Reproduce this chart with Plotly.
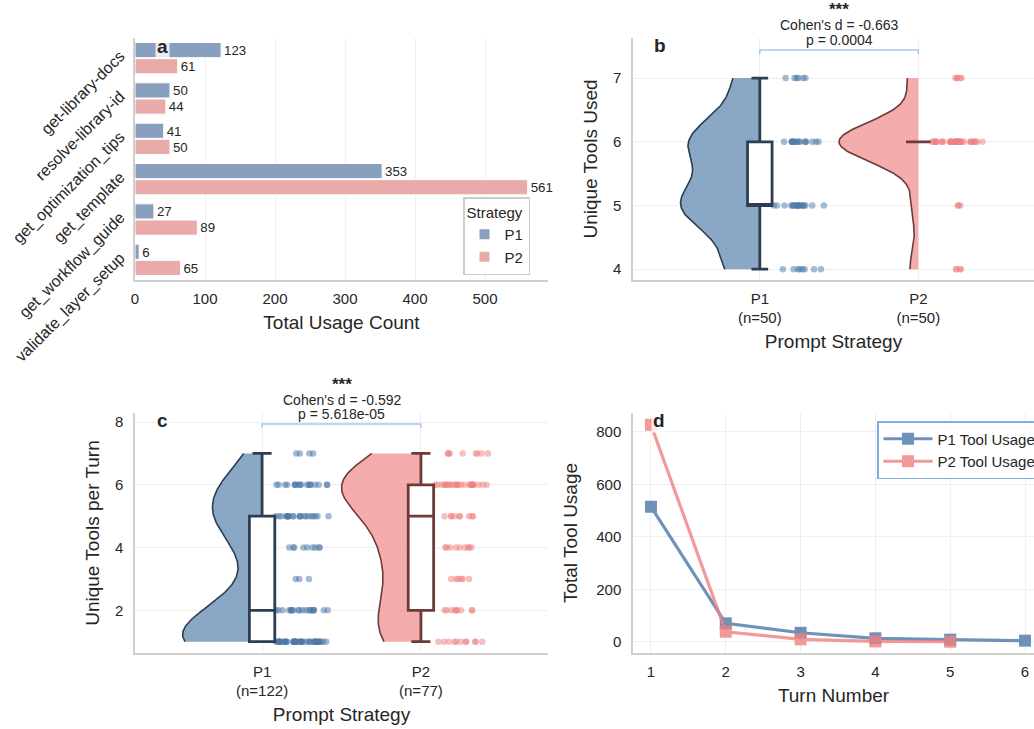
import numpy as np
import plotly.graph_objects as go

# ---------------- data ----------------
tools = ["get-library-docs", "resolve-library-id", "get_optimization_tips",
         "get_template", "get_workflow_guide", "validate_layer_setup"]
usage_p1 = [123, 50, 41, 353, 27, 6]
usage_p2 = [61, 44, 50, 561, 89, 65]

strategies = ["P1", "P2"]

# panel b: unique tools used per session (level -> number of sessions)
b_levels = [4, 5, 6, 7]
b_counts_p1 = [8, 19, 17, 6]
b_counts_p2 = [4, 3, 38, 5]
b_stats = ["***", "Cohen's d = -0.663", "p = 0.0004"]

# panel c: unique tools per turn (level -> number of turns)
c_levels = [1, 2, 3, 4, 5, 6, 7]
c_counts_p1 = [46, 20, 3, 9, 22, 18, 4]
c_counts_p2 = [11, 9, 6, 9, 9, 25, 8]
c_stats = ["***", "Cohen's d = -0.592", "p = 5.618e-05"]

# panel d: total tool usage per turn
turns_p1 = [1, 2, 3, 4, 5, 6]
turn_usage_p1 = [515, 71, 35, 14, 9, 5]
turns_p2 = [1, 2, 3, 4, 5]
turn_usage_p2 = [827, 39, 10, 2, 1]

# ---------------- style ----------------
FONT = "Liberation Sans, Arial, sans-serif"
TXT = "#262626"
GRID = "#EFEFEF"
AXL = "#CFCFCF"
BASE = {"P1": "#4C78A8", "P2": "#F08080"}
BAR = {"P1": "#889FBD", "P2": "#E9AAAA"}
VFILL = {"P1": "rgba(76,120,168,0.65)", "P2": "rgba(240,128,128,0.65)"}
DARK = {"P1": "#2C3E50", "P2": "#6E3B3B"}
BRACKET = "#A9C8EE"

W, H = 1034, 729


def px_x(p):
    return p / W


def px_y(p):
    return 1 - p / H


fig = go.Figure()

# ---------------- panel a ----------------
for name, vals in (("P1", usage_p1), ("P2", usage_p2)):
    fig.add_trace(go.Bar(
        y=tools, x=vals, orientation="h", name=name,
        marker=dict(color=BAR[name], line=dict(color="white", width=1)),
        text=vals, textposition="outside", cliponaxis=False,
        textfont=dict(size=14, color=TXT, family=FONT),
        xaxis="x", yaxis="y", legend="legend",
    ))


def scott_bw(vals):
    return vals.std(ddof=1) * len(vals) ** (-0.2)


def kde_edge(vals, pos, half_width=0.5, n=200):
    bw = scott_bw(vals)
    grid = np.linspace(vals.min(), vals.max(), n)
    dens = np.exp(-0.5 * ((grid[:, None] - vals[None, :]) / bw) ** 2).sum(1)
    dens = dens / dens.max() * half_width
    return pos - dens, grid


def add_raincloud(levels, counts_by_group, xa, ya, box_w, cap_ratio):
    for i, name in enumerate(strategies):
        vals = np.repeat(levels, counts_by_group[i]).astype(float)
        # half violin body (plotly KDE, same bandwidth as the outline)
        fig.add_trace(go.Violin(
            y=vals, x0=i, side="negative", width=1.0, scalemode="width",
            spanmode="hard", bandwidth=scott_bw(vals), points=False,
            fillcolor=VFILL[name], line=dict(width=0, color="rgba(0,0,0,0)"),
            xaxis=xa, yaxis=ya, showlegend=False, hoverinfo="skip"))
        # outline on the curved side only
        xs, grid = kde_edge(vals, i)
        fig.add_trace(go.Scatter(
            x=xs, y=grid, mode="lines",
            line=dict(width=1.6, color=DARK[name]),
            xaxis=xa, yaxis=ya, showlegend=False, hoverinfo="skip"))
        # strip points (jitter by plotly)
        fig.add_trace(go.Box(
            y=vals, x0=i, width=0.4, boxpoints="all", jitter=0.85, pointpos=1.27,
            fillcolor="rgba(0,0,0,0)", line=dict(width=0, color="rgba(0,0,0,0)"),
            marker=dict(color=BASE[name], size=6.5, opacity=0.5),
            xaxis=xa, yaxis=ya, showlegend=False, hoverinfo="skip"))
        # quartile box (whiskers at 1.5 IQR; outliers hidden)
        fig.add_trace(go.Box(
            y=vals, x0=i, width=box_w, boxpoints="outliers", fillcolor="white",
            marker=dict(size=0, opacity=0),
            line=dict(color=DARK[name], width=2.8), whiskerwidth=cap_ratio,
            xaxis=xa, yaxis=ya, showlegend=False, hoverinfo="skip"))


add_raincloud(b_levels, [b_counts_p1, b_counts_p2], "x2", "y2", 0.155, 0.68)
add_raincloud(c_levels, [c_counts_p1, c_counts_p2], "x3", "y3", 0.16, 0.75)

# ---------------- panel d ----------------
for name, tx, ty in (("P1", turns_p1, turn_usage_p1), ("P2", turns_p2, turn_usage_p2)):
    fig.add_trace(go.Scatter(
        x=tx, y=ty, mode="lines+markers", name=f"{name} Tool Usage",
        line=dict(color=BASE[name], width=3.2),
        marker=dict(symbol="square", size=12, color=BASE[name]),
        opacity=0.8, xaxis="x4", yaxis="y4", legend="legend2", cliponaxis=False))

# ---------------- axes ----------------
tickfont = dict(size=15, color=TXT, family=FONT)
titlefont = dict(size=19, color=TXT, family=FONT)
common = dict(showline=True, linecolor=AXL, linewidth=1.5, gridcolor=GRID,
              gridwidth=1, zeroline=False, ticks="", title_font=titlefont,
              automargin=False)
xcommon = dict(common, ticklabelstandoff=4)
ycommon = dict(common, ticklabelstandoff=7)

dom_ax_left = [px_x(135), px_x(548)]
dom_ax_right = [px_x(633), 1.0]
dom_top = [px_y(280), px_y(38)]
dom_bot = [px_y(653), px_y(413)]

n_b = [sum(b_counts_p1), sum(b_counts_p2)]
n_c = [sum(c_counts_p1), sum(c_counts_p2)]

fig.update_layout(
    width=W, height=H, margin=dict(l=0, r=0, t=0, b=0, autoexpand=False),
    plot_bgcolor="white", paper_bgcolor="white",
    font=dict(family=FONT, color=TXT),
    barmode="group", bargap=0.2, bargroupgap=0.06,
    boxmode="overlay", violinmode="overlay",
    xaxis=dict(domain=dom_ax_left, anchor="y", range=[0, 590],
               tickvals=[0, 100, 200, 300, 400, 500], tickfont=tickfont,
               title=dict(text="Total Usage Count", standoff=10), **xcommon),
    yaxis=dict(domain=dom_top, anchor="x", type="category",
               range=[5.5, -0.5], tickangle=-45, showgrid=False,
               ticklabelshift=4,
               tickfont=dict(size=16, color=TXT, family=FONT),
               **dict(common, ticklabelstandoff=10)),
    xaxis2=dict(domain=dom_ax_right, anchor="y2", type="linear", range=[-0.8, 1.73],
                tickvals=[0, 1], tickfont=tickfont,
                ticktext=[f"{s}<br>(n={n})" for s, n in zip(strategies, n_b)],
                title=dict(text="Prompt Strategy", standoff=9), **xcommon),
    yaxis2=dict(domain=dom_top, anchor="x2", range=[3.83, 7.63],
                tickvals=b_levels, tickfont=tickfont,
                title=dict(text="Unique Tools Used", standoff=10), **ycommon),
    xaxis3=dict(domain=dom_ax_left, anchor="y3", type="linear", range=[-0.8, 1.8],
                tickvals=[0, 1], tickfont=tickfont,
                ticktext=[f"{s}<br>(n={n})" for s, n in zip(strategies, n_c)],
                title=dict(text="Prompt Strategy", standoff=9), **xcommon),
    yaxis3=dict(domain=dom_bot, anchor="x3", range=[0.64, 8.29],
                tickvals=[2, 4, 6, 8], tickfont=tickfont,
                title=dict(text="Unique Tools per Turn", standoff=10), **ycommon),
    xaxis4=dict(domain=dom_ax_right, anchor="y4", range=[0.76, 6.12],
                tickvals=[1, 2, 3, 4, 5, 6], tickfont=tickfont,
                title=dict(text="Turn Number", standoff=10), **xcommon),
    yaxis4=dict(domain=dom_bot, anchor="x4", range=[-42, 872],
                tickvals=[0, 200, 400, 600, 800], tickfont=tickfont,
                title=dict(text="Total Tool Usage", standoff=14), **ycommon),
    legend=dict(title=dict(text="Strategy", font=dict(size=15, color=TXT)),
                x=px_x(530), xanchor="right", y=px_y(197), yanchor="top",
                bgcolor="rgba(255,255,255,0.85)", bordercolor="#CCCCCC",
                borderwidth=1.5, font=dict(size=15, color=TXT),
                itemsizing="constant", tracegroupgap=2),
    legend2=dict(x=px_x(877), xanchor="left", y=px_y(421), yanchor="top",
                 bgcolor="rgba(255,255,255,0.9)", bordercolor="#7FAEE3",
                 borderwidth=1.5, font=dict(size=15, color=TXT), itemwidth=49),
)

# ---------------- annotations ----------------
ann = []
for lab, x, y in (("a", 162, 47), ("b", 660, 45), ("c", 162, 420), ("d", 659, 420)):
    ann.append(dict(text=f"<b>{lab}</b>", x=px_x(x), y=px_y(y), xref="paper", yref="paper",
                    xanchor="center", yanchor="middle",
                    showarrow=False, font=dict(size=19, color=TXT, family=FONT),
                    bgcolor="rgba(255,255,255,0.8)", borderpad=1))


def add_sig(stats, xa, ypx):
    for k, (txt, yy, sz) in enumerate(zip(stats, ypx, (17, 14, 14))):
        ann.append(dict(text=f"<b>{txt}</b>" if k == 0 else txt,
                        x=0.5, y=px_y(yy), xref=xa, yref="paper",
                        xanchor="center", yanchor="middle",
                        showarrow=False, font=dict(size=sz, color=TXT, family=FONT)))


add_sig(b_stats, "x2", (9, 25, 40))
add_sig(c_stats, "x3", (384, 400, 414))
fig.update_layout(annotations=ann)

shapes = []
for xa, ytop, ybot in (("x2", px_y(50), px_y(54)), ("x3", px_y(424), px_y(428))):
    shapes.append(dict(type="path", xref=xa, yref="paper",
                       path=f"M 0 {ybot} L 0 {ytop} L 1 {ytop} L 1 {ybot}",
                       line=dict(color=BRACKET, width=1.5)))
fig.update_layout(shapes=shapes)

fig.write_html("out.html", config={"displayModeBar": False},
               post_script="document.body.style.margin='0px';")
